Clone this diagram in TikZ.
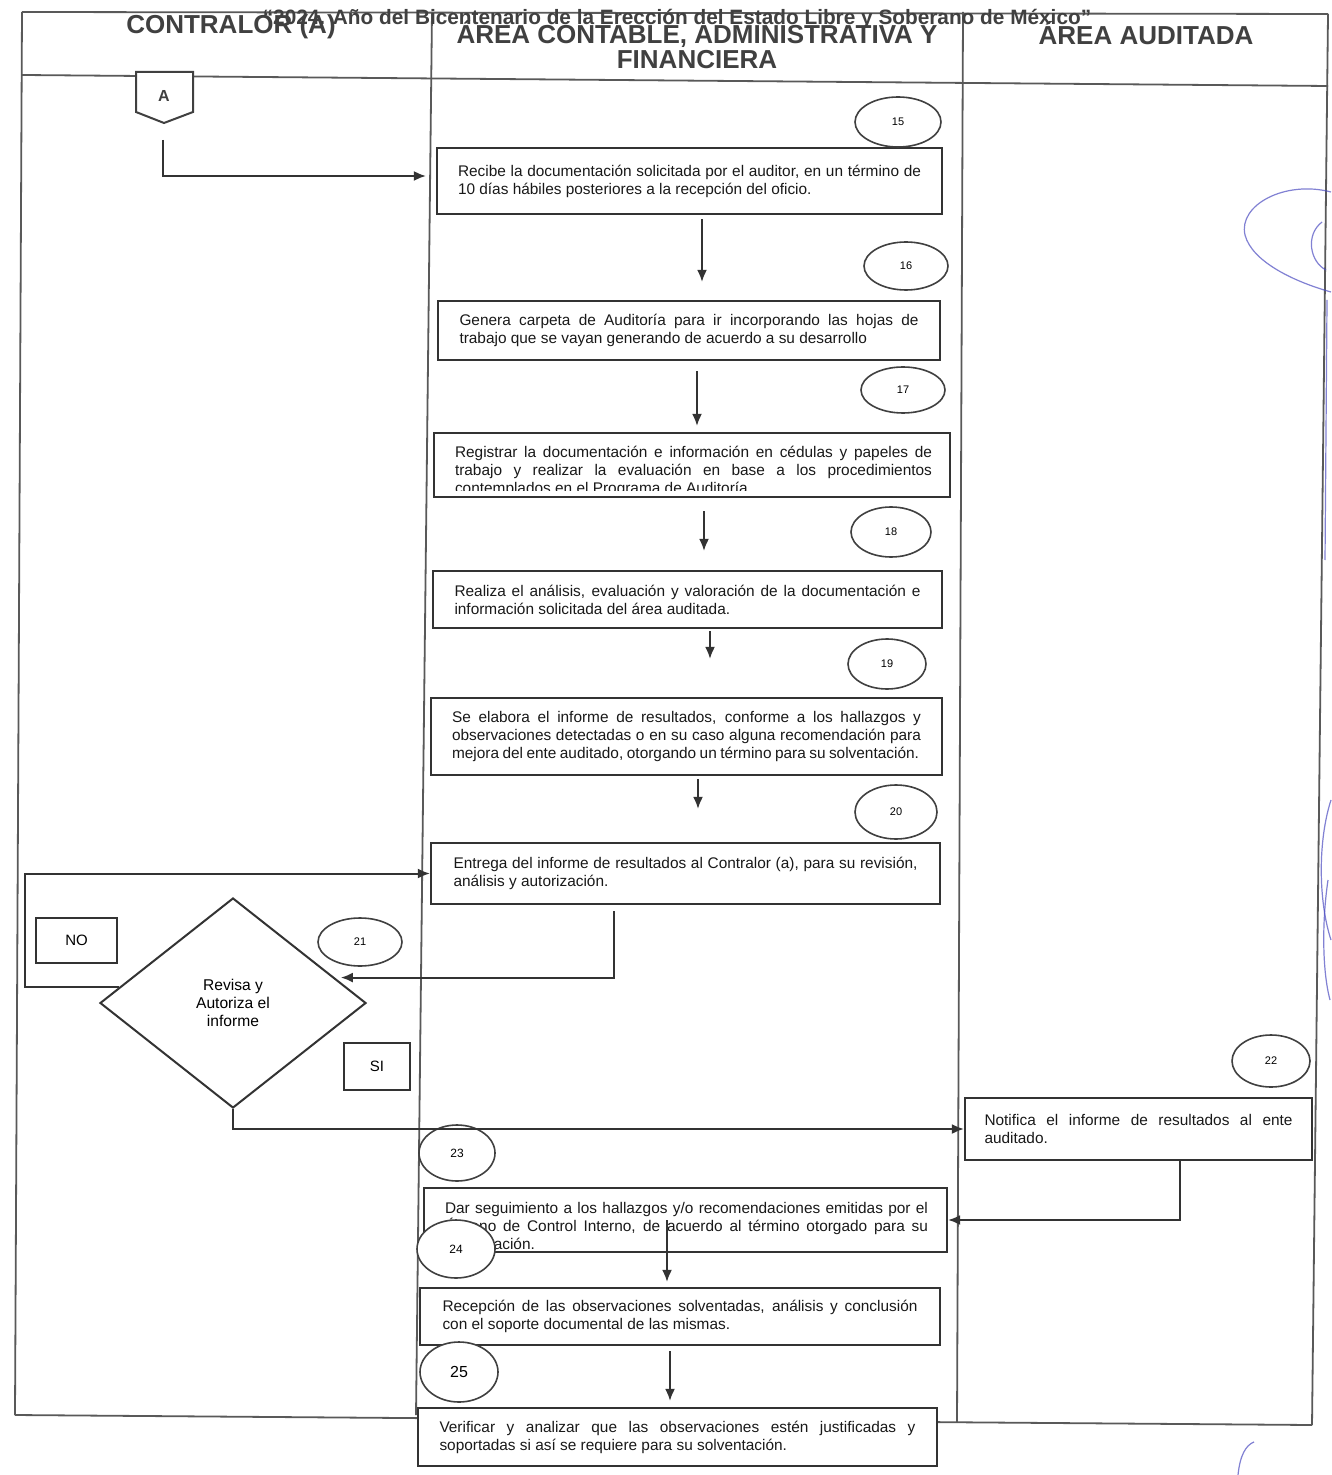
\documentclass[tikz,border=0pt]{standalone}
\usepackage{fontspec}
\setmainfont{Liberation Sans}
\usetikzlibrary{shapes.geometric,arrows.meta,calc}
\newcommand\jl[2]{\makebox[#1][s]{#2}}
\begin{document}
\begin{tikzpicture}[x=0.5pt,y=-0.5pt,
  box/.style={draw=black!80, line width=1.1pt, fill=white, inner sep=0pt,
    font=\fontsize{7.7}{9}\selectfont, align=left, text=black!90},
  txt/.style={inner sep=0pt, font=\fontsize{7.7}{9}\selectfont, align=left, text=black!90},
  num/.style={draw=black!75, line width=0.8pt, ellipse, fill=white, inner sep=0pt,
    font=\fontsize{5.5}{6}\selectfont},
  lab/.style={draw=black!80, line width=1pt, fill=white, inner sep=0pt,
    font=\fontsize{7.5}{8}\selectfont},
  arr/.style={draw=black!80, line width=1pt, -{Latex[length=6pt,width=5pt]}},
  frame/.style={draw=black!65, line width=0.9pt},
  hdr/.style={font=\bfseries\fontsize{13}{12.5}\selectfont, text=black!75, align=center, inner sep=0pt},
  sig/.style={draw=blue!65!black!70, line width=0.6pt, opacity=0.7}
]
\useasboundingbox (0,0) rectangle (1331,1475);
\fill[white] (0,0) rectangle (1331,1475);

% frame
\draw[frame] (22,12) -- (1328,14);
\draw[frame] (22,75) -- (1328,86);
\draw[frame] (22,12) -- (15,1415);
\draw[frame] (432,12) -- (416,1415);
\draw[frame] (963,12) -- (957,1422);
\draw[frame] (1328,14) -- (1312,1425);
\draw[frame] (15,1415) -- (1312,1425);

% headers
\node[hdr] (h1) at (231,27) {CONTRALOR (A)};
\node[hdr] (h2) at (697,45) {ÁREA CONTABLE, ADMINISTRATIVA Y\\FINANCIERA};
\node[hdr] (h3) at (1146,33) {ÁREA AUDITADA};
\node[font=\bfseries\fontsize{10.4}{11}\selectfont, text=black!75, inner sep=0pt] (title) at (677,19)
  {“2024. Año del Bicentenario de la Erección del Estado Libre y Soberano de México”};

% off-page connector A
\draw[draw=black!75, line width=1pt, fill=white] (136,72) -- (193,72) -- (193,112) -- (164,123) -- (136,112) -- cycle;
\node[font=\bfseries\fontsize{8}{9}\selectfont, text=black!75, inner sep=0pt] (offA) at (164,96) {A};
\coordinate (Aout) at (163,140);

% boxes
\node[box, minimum width=252.5pt, minimum height=33pt] (b15) at (689.5,181)
  {\jl{231.5pt}{Recibe la documentación solicitada por el auditor, en un término de}\\10 días hábiles posteriores a la recepción del oficio.};
\node[box, minimum width=251pt, minimum height=29.5pt] (b16) at (689,330.5)
  {\jl{229.5pt}{Genera carpeta de Auditoría para ir incorporando las hojas de}\\trabajo que se vayan generando de acuerdo a su desarrollo};
\node[box, minimum width=258pt, minimum height=32pt] (b17) at (692,465) {};
\begin{scope}
  \clip (436,435) rectangle (948,491);
  \node[txt] (t17) at (693.5,471)
    {\jl{238.5pt}{Registrar la documentación e información en cédulas y papeles de}\\
     \jl{238.5pt}{trabajo y realizar la evaluación en base a los procedimientos}\\
     contemplados en el Programa de Auditoría};
\end{scope}
\node[box, minimum width=254.5pt, minimum height=28.5pt] (b18) at (687.5,599.5)
  {\jl{233pt}{Realiza el análisis, evaluación y valoración de la documentación e}\\información solicitada del área auditada.};
\node[box, minimum width=255.5pt, minimum height=38.5pt] (b19) at (686.5,736.5)
  {\jl{234.5pt}{Se elabora el informe de resultados, conforme a los hallazgos y}\\
   \jl{234.5pt}{observaciones detectadas o en su caso alguna recomendación para}\\
   \jl{233.5pt}{mejora del ente auditado, otorgando un término para su solventación.}};
\node[box, minimum width=254.5pt, minimum height=30.5pt] (b20) at (685.5,873.5)
  {\jl{232pt}{Entrega del informe de resultados al Contralor (a), para su revisión,}\\análisis y autorización.};
\node[box, minimum width=173.5pt, minimum height=31pt] (b22) at (1138.5,1129)
  {\jl{154pt}{Notifica el informe de resultados al ente}\\auditado.};
\node[box, minimum width=261.5pt, minimum height=32pt] (b23) at (685.5,1220) {};
\node[txt] (t23) at (686.5,1226)
  {\jl{241.5pt}{Dar seguimiento a los hallazgos y/o recomendaciones emitidas por el}\\
   \jl{241.5pt}{Órgano de Control Interno, de acuerdo al término otorgado para su}\\
   solventación.};
\node[box, minimum width=260pt, minimum height=28.5pt] (b24) at (680,1316.5)
  {\jl{237.5pt}{Recepción de las observaciones solventadas, análisis y conclusión}\\con el soporte documental de las mismas.};
\node[box, minimum width=259.5pt, minimum height=29pt] (b25) at (677.5,1437)
  {\jl{238pt}{Verificar y analizar que las observaciones estén justificadas y}\\soportadas si así se requiere para su solventación.};

% decision
\node[draw=black!80, line width=1pt, diamond, aspect=1.27, minimum width=133pt, minimum height=105pt,
  inner sep=0pt, align=center, font=\fontsize{7.8}{9}\selectfont, fill=white] (dia) at (233,1003)
  {Revisa y\\Autoriza el\\informe};
\coordinate (diaIn) at ($(dia.north)!0.76!(dia.east)$);
\coordinate (diaNo) at ($(dia.north)!0.85!(dia.west)$);
\node[lab, minimum width=40.5pt, minimum height=22.5pt] (no) at (76.5,940.5) {NO};
\node[lab, minimum width=33pt, minimum height=23.5pt] (si) at (377,1066.5) {SI};

% step numbers
\node[num, minimum width=43pt, minimum height=25pt] (n15) at (898,122) {15};
\node[num, minimum width=42pt, minimum height=24pt] (n16) at (906,266) {16};
\node[num, minimum width=42pt, minimum height=23pt] (n17) at (903,390) {17};
\node[num, minimum width=40pt, minimum height=25pt] (n18) at (891,532) {18};
\node[num, minimum width=39pt, minimum height=25pt] (n19) at (887,664) {19};
\node[num, minimum width=41pt, minimum height=27pt] (n20) at (896,812) {20};
\node[num, minimum width=42pt, minimum height=24pt] (n21) at (360,942) {21};
\node[num, minimum width=39pt, minimum height=26pt] (n22) at (1271,1061) {22};
\node[num, minimum width=38pt, minimum height=28pt, font=\fontsize{6}{7}\selectfont] (n23) at (457,1153) {23};
\node[num, minimum width=39pt, minimum height=29pt, font=\fontsize{6}{7}\selectfont] (n24) at (456,1249) {24};
\node[num, minimum width=39pt, minimum height=30pt, font=\fontsize{8}{9}\selectfont] (n25) at (459,1372) {25};

% connectors
\draw[arr, shorten >=5pt] (Aout) |- ($(b15.west)+(0,-5)$);
\draw[arr, shorten <=2pt, shorten >=9pt] (b15.south -| 702,0) -- (b16.north -| 702,0);
\draw[arr, shorten <=5pt, shorten >=3pt] (b16.south -| 697,0) -- (b17.north -| 697,0);
\draw[arr, shorten <=6.5pt, shorten >=9.5pt] (b17.south -| 704,0) -- (b18.north -| 704,0);
\draw[arr, shorten <=1pt, shorten >=19pt] (b18.south -| 710,0) -- (b19.north -| 710,0);
\draw[arr, shorten <=1.5pt, shorten >=16.5pt] (b19.south -| 698,0) -- (b20.north -| 698,0);
\draw[arr, shorten <=3pt, shorten >=3pt] (b20.south -| 614,0) |- (diaIn);
\draw[arr] (diaNo) -| (25,0 |- b20.west) -- (b20.west);
\draw[arr] (dia.south) |- (b22.west);
\draw[arr] (b22.south -| 1180,0) |- (b23.east);
\draw[arr, shorten >=2.5pt] (b23.center -| 667,0) -- (b24.north -| 667,0);
\draw[arr, shorten <=2.5pt, shorten >=3pt] (b24.south -| 670,0) -- (b25.north -| 670,0);

% handwritten marks
\draw[sig] (1331,192) .. controls (1285,180) and (1238,205) .. (1245,235) .. controls (1252,262) and (1295,282) .. (1331,292);
\draw[sig] (1322,222) .. controls (1305,235) and (1310,262) .. (1326,270);
\draw[sig] (1327,300) -- (1325,560);
\draw[sig] (1331,800) .. controls (1318,840) and (1318,900) .. (1331,940);
\draw[sig] (1328,880) .. controls (1322,920) and (1322,970) .. (1330,1000);
\draw[sig] (1238,1475) .. controls (1240,1455) and (1246,1445) .. (1254,1442);
\end{tikzpicture}
\end{document}
